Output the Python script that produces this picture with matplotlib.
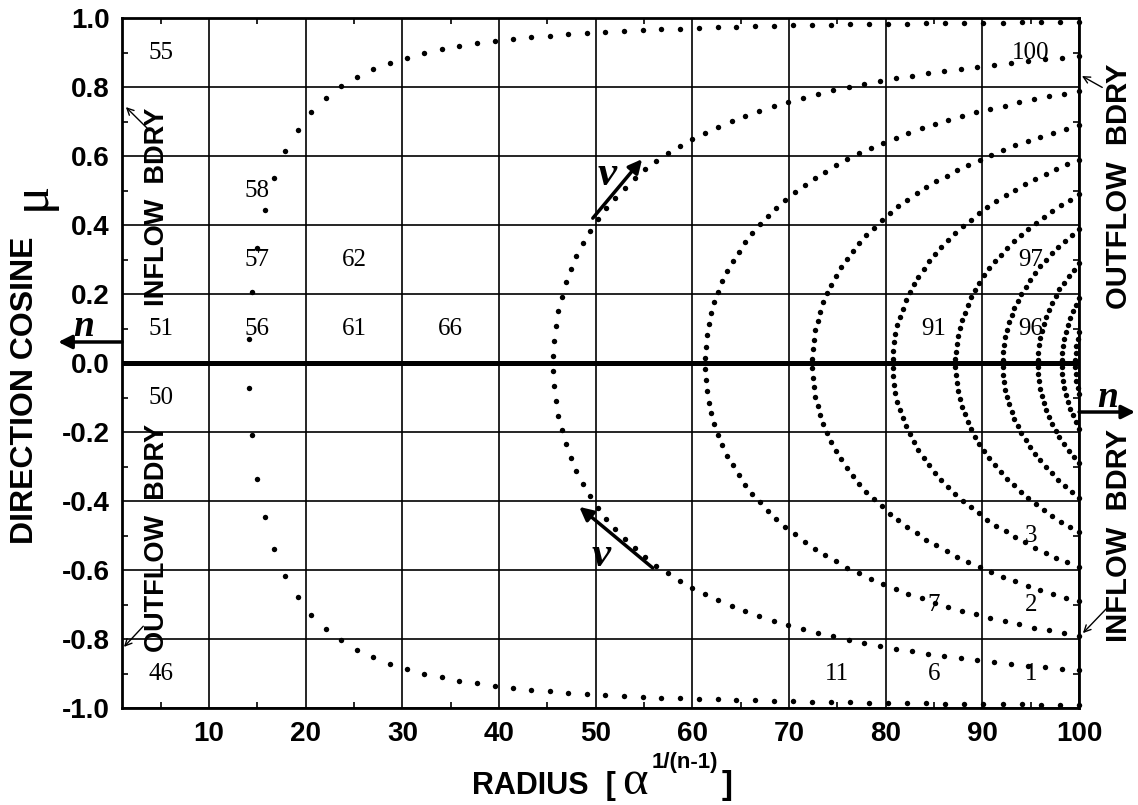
import numpy as np
import matplotlib.pyplot as plt
from matplotlib.ticker import MultipleLocator

# radius at which each characteristic ray crosses mu = 0
impact = [14.1, 45.6, 61.3, 72.4, 80.7, 87.2, 92.1, 95.7, 98.2, 99.6]
ray_step = 2.0      # path length between neighbouring dots on a ray
r_outer = 100.0

x_ticks = [10, 20, 30, 40, 50, 60, 70, 80, 90, 100]
y_ticks = [-1.0, -0.8, -0.6, -0.4, -0.2, 0.0, 0.2, 0.4, 0.6, 0.8, 1.0]

# cell numbers
cell_text = ["55", "100", "58", "57", "62", "97", "51", "56", "61", "66", "91", "96",
             "50", "3", "7", "2", "46", "11", "6", "1"]
cell_r = [5, 95, 15, 15, 25, 95, 5, 15, 25, 35, 85, 95, 5, 95, 85, 95, 5, 75, 85, 95]
cell_mu = [0.9, 0.9, 0.5, 0.3, 0.3, 0.3, 0.1, 0.1, 0.1, 0.1, 0.1, 0.1,
           -0.1, -0.5, -0.7, -0.7, -0.9, -0.9, -0.9, -0.9]

SANS = "Liberation Sans"
SERIF = "Liberation Serif"

fig = plt.figure(figsize=(11.38, 8.05), dpi=100)
ax = fig.add_axes([0.1072, 0.1201, 0.841, 0.857])
ax.set_xlim(1, 100)
ax.set_ylim(-1, 1)

# characteristic rays, dots evenly spaced along the path
for p in impact:
    half = round(np.sqrt(r_outer**2 - p**2))
    s = np.arange(-half, half + 1, ray_step)
    r = np.hypot(p, s)
    ax.plot(r, s / r, "o", ms=3.9, color="k", mec="k", mew=0, clip_on=False, zorder=4)

ax.axhline(0, color="k", lw=3.6, zorder=3)

ax.xaxis.set_minor_locator(MultipleLocator(5))
ax.yaxis.set_minor_locator(MultipleLocator(0.1))
ax.set_xticks(x_ticks)
ax.set_yticks(y_ticks)
ax.set_xticklabels([str(v) for v in x_ticks])
ax.set_yticklabels([f"{v:.1f}" for v in y_ticks])
ax.grid(True, which="major", color="k", lw=1.2)
ax.tick_params(which="both", direction="in", top=True, right=True)
ax.tick_params(which="major", length=0, pad=9)
ax.tick_params(which="minor", length=4.5, width=1.2)
for lbl in ax.get_xticklabels() + ax.get_yticklabels():
    lbl.set_fontfamily(SANS)
    lbl.set_fontweight("bold")
    lbl.set_fontsize(20)
for sp in ax.spines.values():
    sp.set_linewidth(2)
    sp.set_zorder(5)

for t, x, y in zip(cell_text, cell_r, cell_mu):
    ax.text(x, y, t, family=SERIF, fontsize=18, ha="center", va="center", zorder=2)

# boundary labels
ax.text(4.6, 0.455, "INFLOW  BDRY", family=SANS, weight="bold", fontsize=19.5,
        rotation=90, ha="center", va="center")
ax.text(4.6, -0.506, "OUTFLOW  BDRY", family=SANS, weight="bold", fontsize=19.5,
        rotation=90, ha="center", va="center")
ax.text(104.1, 0.514, "OUTFLOW  BDRY", family=SANS, weight="bold", fontsize=21,
        rotation=90, ha="center", va="center", clip_on=False)
ax.text(104.1, -0.5, "INFLOW  BDRY", family=SANS, weight="bold", fontsize=21,
        rotation=90, ha="center", va="center", clip_on=False)

thin = dict(arrowstyle="->", lw=1.0, color="k", mutation_scale=12, shrinkA=0, shrinkB=0)
ax.annotate("", xy=(1.4, 0.743), xytext=(3.6, 0.682), arrowprops=thin, annotation_clip=False)
ax.annotate("", xy=(1.2, -0.822), xytext=(3.2, -0.762), arrowprops=thin, annotation_clip=False)
ax.annotate("", xy=(100.3, 0.833), xytext=(102.4, 0.80), arrowprops=thin, annotation_clip=False)
ax.annotate("", xy=(100.4, -0.782), xytext=(102.9, -0.709), arrowprops=thin, annotation_clip=False)

bold = dict(arrowstyle="-|>", lw=2.5, color="k", mutation_scale=20, shrinkA=0, shrinkB=0)
ax.annotate("", xy=(-5.6, 0.062), xytext=(1, 0.062), arrowprops=bold, annotation_clip=False)
ax.annotate("", xy=(105.8, -0.141), xytext=(100, -0.141), arrowprops=bold, annotation_clip=False)
ax.annotate("", xy=(54.8, 0.592), xytext=(49.7, 0.421), arrowprops=bold, annotation_clip=False)
ax.annotate("", xy=(48.3, -0.416), xytext=(55.9, -0.593), arrowprops=bold, annotation_clip=False)

ax.text(-3.0, 0.108, "n", family=SERIF, weight="bold", style="italic", fontsize=27,
        ha="center", va="center", clip_on=False)
ax.text(103.0, -0.098, "n", family=SERIF, weight="bold", style="italic", fontsize=27,
        ha="center", va="center", clip_on=False)
ax.text(51.2, 0.546, "v", family=SERIF, weight="bold", style="italic", fontsize=31,
        ha="center", va="center")
ax.text(50.6, -0.558, "v", family=SERIF, weight="bold", style="italic", fontsize=31,
        ha="center", va="center")

# axis titles, pieced together in figure pixels
W, H = 1138, 805
fig.text(472 / W, 1 - 794 / H, "RADIUS  [", family=SANS, weight="bold", fontsize=22,
         ha="left", va="baseline")
fig.text(622 / W, 1 - 794 / H, "\u03b1", family=SERIF, fontsize=35, ha="left", va="baseline")
fig.text(652 / W, 1 - 768 / H, "1/(n-1)", family=SANS, weight="bold", fontsize=16,
         ha="left", va="baseline")
fig.text(722 / W, 1 - 794 / H, "]", family=SANS, weight="bold", fontsize=24,
         ha="left", va="baseline")

fig.text(25 / W, 1 - 390 / H, "DIRECTION COSINE", family=SANS, weight="bold", fontsize=23,
         rotation=90, ha="center", va="center")
fig.text(32 / W, 1 - 196 / H, "\u03bc", family=SERIF, fontsize=38,
         rotation=90, ha="center", va="center")

fig.savefig("out.png", dpi=100)
